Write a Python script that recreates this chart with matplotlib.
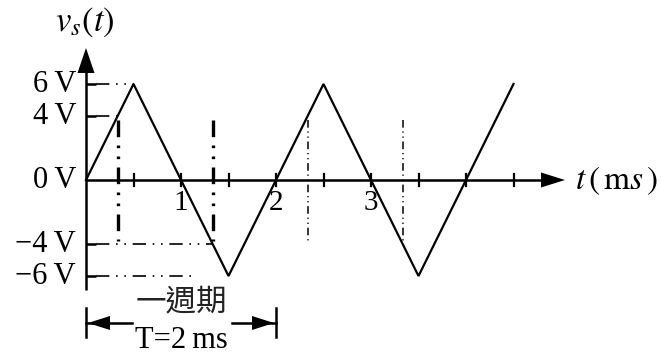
import matplotlib
matplotlib.use("Agg")
import matplotlib.pyplot as plt

plt.rcParams["font.family"] = ["Liberation Serif", "DejaVu Serif"]
plt.rcParams["mathtext.fontset"] = "stix"

# triangle wave corner points (ms, V)
t_pts = [0, 0.5, 1, 1.5, 2, 2.5, 3, 3.5, 4, 4.5]
v_pts = [0, 6, 0, -6, 0, 6, 0, -6, 0, 6]

# axis ticks / labels
x_ticks = [0.5, 1, 1.5, 2, 2.5, 3, 3.5, 4, 4.5]
x_labels = {1: "1", 2: "2", 3: "3"}
y_ticks = [6, 4, -4, -6]
y_labels = {6: "6\u2009V", 4: "4\u2009V", 0: "0\u2009V", -4: "\u22124\u2009V", -6: "\u22126\u2009V"}

# guide lines where |v| = 4 V
guide_t = [1 / 3, 4 / 3, 7 / 3, 10 / 3]
guide_lw = [2.4, 2.4, 1.1, 1.1]
h_guides = [(6, 0.5), (4, 1 / 3), (-4, 4 / 3), (-6, 1.15)]

# scale: pixels per unit
PX_T = 95.0
PX_V = 16.0
X0, Y0 = 86, 180
W, H = 661, 354

fig = plt.figure(figsize=(W / 100, H / 100), dpi=100)
ax = fig.add_axes([0, 0, 1, 1])
ax.set_xlim(-X0 / PX_T, (W - X0) / PX_T)
ax.set_ylim(-(H - Y0) / PX_V, Y0 / PX_V)
ax.axis("off")

dt = 1 / PX_T
dv = 1 / PX_V
black = "black"

# axes
x_end = (565 - X0) / PX_T
y_top = (Y0 - 48) / PX_V
y_bot = -(290 - Y0) / PX_V
ax.plot([0, x_end - 20 * dt], [0, 0], color=black, lw=1.8, solid_capstyle="butt")
ax.plot([0, 0], [y_bot, y_top - 22 * dv], color=black, lw=1.8, solid_capstyle="butt")
ax.fill([x_end - 24 * dt, x_end, x_end - 24 * dt], [7.5 * dv, 0, -7.5 * dv], color=black, lw=0)
ax.fill([-8.5 * dt, 0, 8.5 * dt], [y_top - 25 * dv, y_top, y_top - 25 * dv], color=black, lw=0)

# ticks
for t in x_ticks:
    ax.plot([t, t], [-6 * dv, 6 * dv], color=black, lw=1.6)
for v in y_ticks:
    ax.plot([0, 10 * dt], [v, v], color=black, lw=1.8, solid_capstyle="butt")

# guides
for t, lw in zip(guide_t, guide_lw):
    ax.plot([t, t], [3.75, -3.8], color=black, lw=lw,
            linestyle=(0, (5, 2.5, 0.8, 2.5, 0.8, 2.5)))
for v, t_end in h_guides:
    ax.plot([10 * dt, t_end], [v, v], color=black, lw=1.2,
            linestyle=(0, (8, 4, 1, 4, 1, 4)))

# wave
ax.plot(t_pts, v_pts, color=black, lw=1.6, solid_joinstyle="miter")

# labels
for v, s in y_labels.items():
    ax.text(-10 * dt, v, s, ha="right", va="center", fontsize=22)
for t, s in x_labels.items():
    ax.text(t, -(203 - Y0) / PX_V, s, ha="center", va="center", fontsize=21)
ax.text((575 - X0) / PX_T, -1 * dv, r"$t\,(\,\mathrm{m}s\,)$", ha="left", va="center", fontsize=24)
ax.text((55 - X0) / PX_T, (Y0 - 22) / PX_V, r"$v_s(t)$", ha="left", va="center", fontsize=25)

# period dimension
t_mid = 1.0
y_dim = -(323 - Y0) / PX_V
ax.text(t_mid, -(302 - Y0) / PX_V, "一週期", ha="center", va="center", fontsize=22,
        family=["Noto Sans CJK TC", "DejaVu Sans"], color="#222222")
ax.text(t_mid, -(341 - Y0) / PX_V, "T=2\u2009ms", ha="center", va="center", fontsize=22)
for t in [0, 2]:
    ax.plot([t, t], [-(308 - Y0) / PX_V, -(337 - Y0) / PX_V], color=black, lw=1.8)
ax.plot([0, (132 - X0) / PX_T], [y_dim, y_dim], color=black, lw=1.8)
ax.plot([(232 - X0) / PX_T, 2], [y_dim, y_dim], color=black, lw=1.8)
ax.fill([2 * dt, 24 * dt, 24 * dt], [y_dim, y_dim + 7 * dv, y_dim - 7 * dv], color=black, lw=0)
ax.fill([2 - 2 * dt, 2 - 24 * dt, 2 - 24 * dt], [y_dim, y_dim + 7 * dv, y_dim - 7 * dv], color=black, lw=0)

fig.savefig("out.png", dpi=100)
